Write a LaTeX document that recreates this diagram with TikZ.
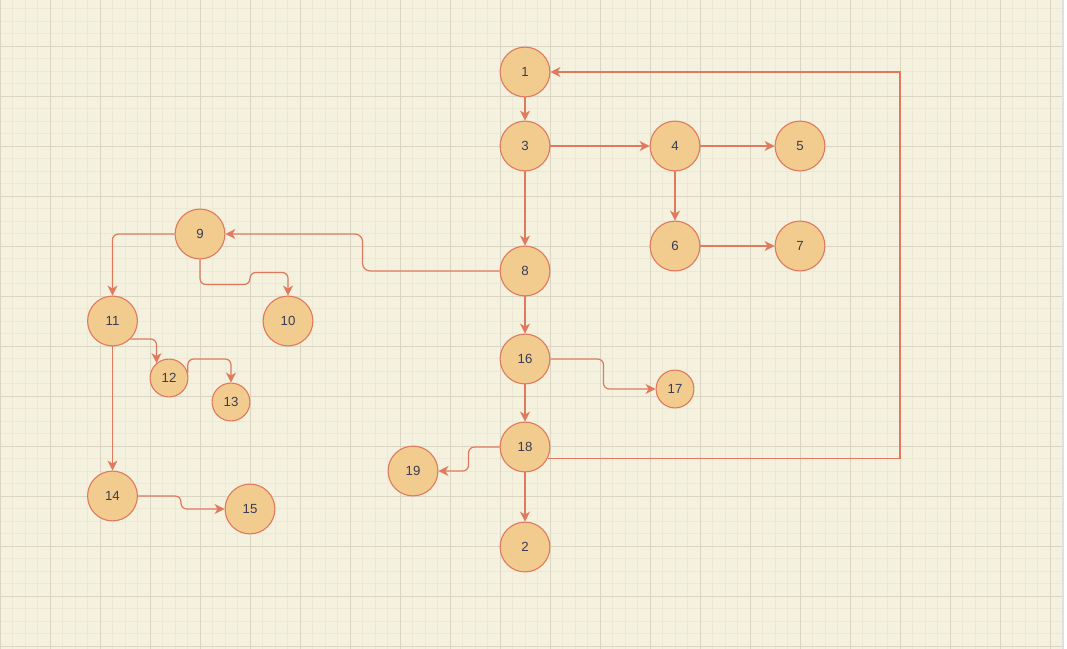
\documentclass[tikz,border=0pt]{standalone}
\usepackage{fontspec}
\setmainfont{Liberation Sans}
\usetikzlibrary{arrows.meta}

\definecolor{paper}{HTML}{F4F1DE}
\definecolor{gridminor}{HTML}{ECE8D4}
\definecolor{gridmajor}{HTML}{D9D5C2}
\definecolor{statefill}{HTML}{F2CC8F}
\definecolor{edgeline}{HTML}{E07A5F}
\definecolor{numtext}{HTML}{393C56}

\tikzset{
  state/.style={circle, draw=edgeline, fill=statefill, line width=0.95pt,
    minimum size=42.5pt, inner sep=0pt, text=numtext,
    font=\fontsize{11.3}{13}\selectfont},
  small state/.style={state, minimum size=32.3pt},
  flow/.style={draw=edgeline, line width=1.05pt, rounded corners=5pt,
    -{Stealth[length=8.5pt, width=8.5pt, inset=2.5pt]}},
}

\begin{document}
\begin{tikzpicture}[x=0.03cm, y=-0.03cm]
  \useasboundingbox (0,0) rectangle (1067,649);

  % paper and grid
  \fill[paper] (0,0) rectangle (1062,649);
  \begin{scope}
    \clip (0,0) rectangle (1062,649);
    \foreach \k in {0,...,85}
      \draw[gridminor, line width=0.85pt] (12.5*\k,0) -- (12.5*\k,649);
    \foreach \k in {0,...,52}
      \draw[gridminor, line width=0.85pt] (0,-4+12.5*\k) -- (1062,-4+12.5*\k);
    \foreach \k in {0,...,21}
      \draw[gridmajor, line width=0.85pt] (50*\k,0) -- (50*\k,649);
    \foreach \k in {0,...,13}
      \draw[gridmajor, line width=0.85pt] (0,-4+50*\k) -- (1062,-4+50*\k);
  \end{scope}
  \draw[black!12, line width=1.7pt] (1063,0) -- (1063,649);

  % states
  \foreach \n/\x/\y in {1/525/72, 3/525/146, 4/675/146, 5/800/146,
      6/675/246, 7/800/246, 8/525/271, 9/200/234, 10/288/321,
      11/112.5/321, 14/112.5/496, 15/250/509, 16/525/359, 18/525/447,
      19/413/471, 2/525/547}
    \node[state] (n\n) at (\x,\y) {\n};
  \foreach \n/\x/\y in {12/169/378, 13/231/402, 17/675/389}
    \node[small state] (n\n) at (\x,\y) {\n};

  \coordinate (loop) at (900,72);

  % straight flows
  \draw[flow] (n1) -- (n3);
  \draw[flow] (n3) -- (n4);
  \draw[flow] (n4) -- (n5);
  \draw[flow] (n4) -- (n6);
  \draw[flow] (n6) -- (n7);
  \draw[flow] (n3) -- (n8);
  \draw[flow] (n8) -- (n16);
  \draw[flow] (n16) -- (n18);
  \draw[flow] (n18) -- (n2);
  \draw[flow] (n11) -- (n14);

  % bent flows
  \draw[flow, rounded corners=6.5pt] (n8.west) -- ++(-137,0) |- (n9.east);
  \draw[flow] (n9.west) -| (n11.north);
  \draw[flow] (n9.south) -- ++(0,25) -| ++(50,-12) -| (n10.north);
  \draw[flow] (n11.-45) -| (n12.130);
  \draw[flow] (n12.15) -- ++(0,-14) -| (n13.north);
  \draw[flow] (n14.east) -- ++(43,0) |- (n15.west);
  \draw[flow] (n16.east) -- ++(53,0) |- (n17.west);
  \draw[flow] (n18.west) -- ++(-31,0) |- (n19.east);
  \draw[flow, sharp corners] (n18.-26) -| (loop) -- (n1.east);
\end{tikzpicture}
\end{document}
